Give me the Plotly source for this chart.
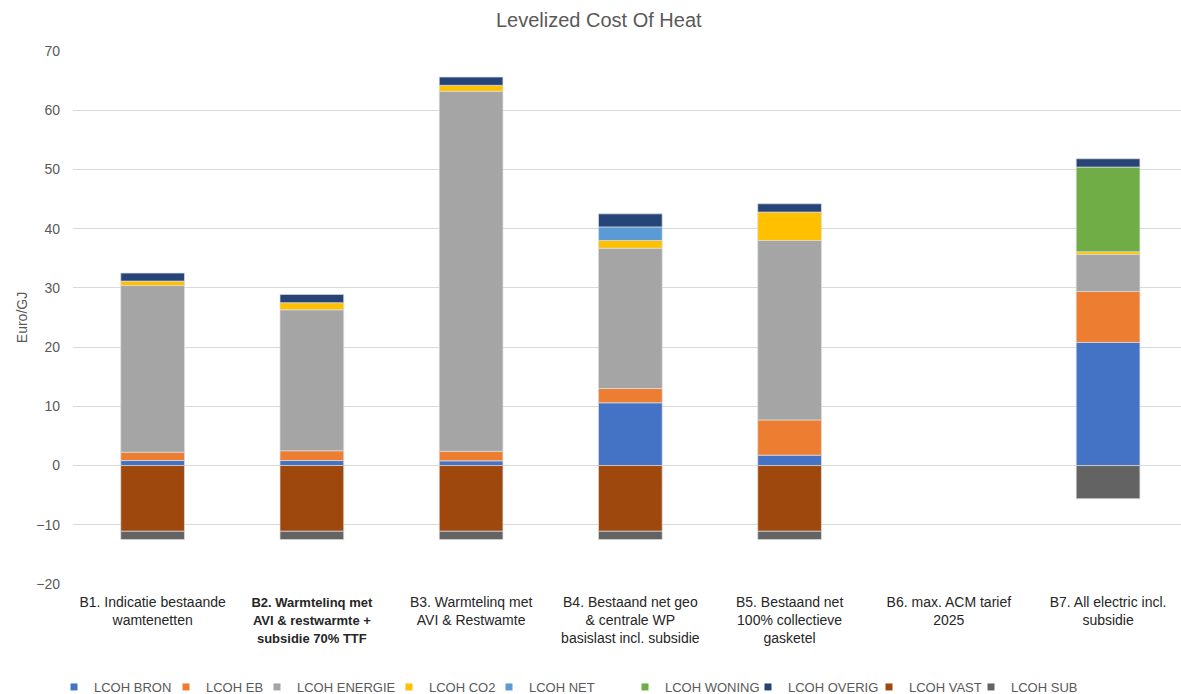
import plotly.graph_objects as go

# Scenario categories (x-axis)
categories = [
    "B1. Indicatie bestaande<br>wamtenetten",
    "<b><span style='font-size:13px'>B2. Warmtelinq met<br>AVI &amp; restwarmte +<br>subsidie 70% TTF</span></b>",
    "B3. Warmtelinq met<br>AVI &amp; Restwamte",
    "B4. Bestaand net geo<br>&amp; centrale WP<br>basislast incl. subsidie",
    "B5. Bestaand net<br>100% collectieve<br>gasketel",
    "B6. max. ACM tarief<br>2025",
    "B7. All electric incl.<br>subsidie",
]

# Levelized cost components (Euro/GJ) per scenario; None = component absent
lcoh_bron    = [0.85, 0.85, 0.8, 10.6, 1.75, None, 20.8]
lcoh_eb      = [1.4, 1.65, 1.6, 2.4, 5.95, None, 8.6]
lcoh_energie = [28.15, 23.8, 60.8, 23.7, 30.3, None, 6.25]
lcoh_co2     = [0.75, 1.2, 1.0, 1.3, 4.8, None, 0.45]
lcoh_net     = [None, None, None, 2.3, None, None, None]
lcoh_woning  = [None, None, None, None, None, None, 14.3]
lcoh_overig  = [1.35, 1.4, 1.4, 2.2, 1.4, None, 1.4]
lcoh_vast    = [-11.1, -11.1, -11.1, -11.1, -11.1, None, None]
lcoh_sub     = [-1.4, -1.4, -1.4, -1.4, -1.4, None, -5.6]

series = [
    ("LCOH BRON", lcoh_bron, "#4472C4"),
    ("LCOH EB", lcoh_eb, "#ED7D31"),
    ("LCOH ENERGIE", lcoh_energie, "#A5A5A5"),
    ("LCOH CO2", lcoh_co2, "#FFC000"),
    ("LCOH NET", lcoh_net, "#5B9BD5"),
    ("LCOH WONING", lcoh_woning, "#70AD47"),
    ("LCOH OVERIG", lcoh_overig, "#264478"),
    ("LCOH VAST", lcoh_vast, "#9E480E"),
    ("LCOH SUB", lcoh_sub, "#636363"),
]

# left edge (px) of each legend entry along the bottom row
legend_left_px = [54, 166, 257, 389, 489, 625, 748, 869, 971]

W, H = 1181, 694
FONT = "Liberation Sans, Arial, sans-serif"

fig = go.Figure()
legend_layouts = {}
for i, (name, vals, color) in enumerate(series):
    key = "legend" if i == 0 else f"legend{i + 1}"
    fig.add_trace(go.Bar(
        x=categories, y=vals, name=name, legendgroup=name, showlegend=False,
        marker=dict(color=color, line=dict(color="rgba(220,220,220,0.9)", width=0.8)),
        width=0.4,
    ))
    # small square legend key for the series
    fig.add_trace(go.Scatter(
        x=[None], y=[None], mode="markers", name=name, legendgroup=name,
        legend=key, showlegend=True,
        marker=dict(symbol="square", size=7, color=color),
    ))
    legend_layouts[key] = dict(
        orientation="h", xref="container", yref="container",
        x=legend_left_px[i] / W, xanchor="left",
        y=(H - 687) / H, yanchor="middle",
        font=dict(family=FONT, size=13, color="#595959"),
        itemwidth=30, bgcolor="rgba(0,0,0,0)",
    )

fig.update_layout(
    barmode="relative",
    width=W, height=H,
    margin=dict(l=73, r=0, t=51, b=110),
    paper_bgcolor="white", plot_bgcolor="white",
    font=dict(family=FONT, size=14, color="#595959"),
    title=dict(text="Levelized Cost Of Heat", x=0.507, xanchor="center",
               y=0.971, yanchor="middle",
               font=dict(family=FONT, size=20, color="#595959")),
    xaxis=dict(range=[-0.5, 6.458], showgrid=False, showline=False, zeroline=False,
               automargin=False,
               tickfont=dict(family=FONT, size=14, color="#262626"),
               ticklabelstandoff=8),
    yaxis=dict(range=[-20, 70], dtick=10, showgrid=True, gridcolor="#d9d9d9",
               gridwidth=1.3, zeroline=True, zerolinecolor="#d9d9d9", zerolinewidth=1.3,
               showline=False, ticklabelstandoff=12, automargin=False,
               tickfont=dict(family=FONT, size=14, color="#595959"),
               title=dict(text="Euro/GJ", standoff=5,
                          font=dict(family=FONT, size=14, color="#595959"))),
    showlegend=True,
    **legend_layouts,
)

fig.write_html("out.html")
